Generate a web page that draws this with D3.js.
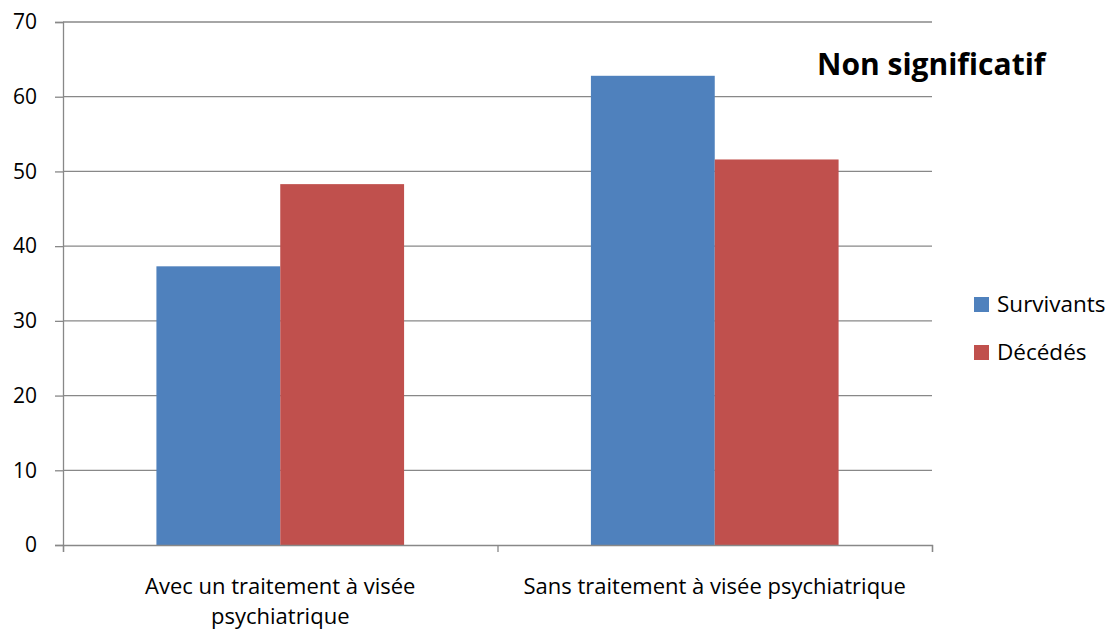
<!DOCTYPE html>
<html>
<head>
<meta charset="utf-8">
<script src="https://cdn.jsdelivr.net/npm/d3@7"></script>
<style>
  body { margin: 0; background: #fff; }
  text { font-family: "Open Sans", sans-serif; fill: #000; }
</style>
</head>
<body>
<div id="chart"></div>
<script>
/* DATA */
var categories = [
  ["Avec un traitement à visée", "psychiatrique"],
  ["Sans traitement à visée psychiatrique"]
];
var seriesNames = ["Survivants", "Décédés"];
var survivants = [37.3, 62.8];
var decedes = [48.3, 51.6];
var yTicks = [0, 10, 20, 30, 40, 50, 60, 70];
var note = "Non significatif";

var colors = ["#4f81bd", "#c0504d"];

var W = 1113, H = 632;
var margin = {top: 22, left: 63, right: 181, bottom: 87};
var width = W - margin.left - margin.right,
    height = H - margin.top - margin.bottom;

var svg = d3.select("#chart").append("svg")
  .attr("width", W)
  .attr("height", H);

var g = svg.append("g")
  .attr("transform", "translate(" + margin.left + "," + margin.top + ")");

var catIdx = categories.map(function(d, i) { return i; });

var xScale = d3.scaleBand()
  .domain(catIdx)
  .range([0, width])
  .paddingInner(0.43)
  .paddingOuter(0.215);

var xSub = d3.scaleBand()
  .domain([0, 1])
  .range([0, xScale.bandwidth()]);

var yScale = d3.scaleLinear()
  .domain([0, 70])
  .range([height, 0]);

// gridlines
g.selectAll(".grid")
  .data(yTicks.filter(function(d) { return d > 0; }))
  .enter().append("line")
  .attr("x1", 0)
  .attr("x2", width)
  .attr("y1", function(d) { return yScale(d); })
  .attr("y2", function(d) { return yScale(d); })
  .attr("stroke", "#888")
  .attr("stroke-width", 1.3);

// bars
var rows = catIdx.map(function(i) { return [survivants[i], decedes[i]]; });
var groups = g.selectAll(".grp")
  .data(rows)
  .enter().append("g")
  .attr("transform", function(d, i) { return "translate(" + xScale(i) + ",0)"; });

groups.selectAll("rect")
  .data(function(d) { return d; })
  .enter().append("rect")
  .attr("x", function(d, j) { return xSub(j); })
  .attr("y", function(d) { return yScale(d); })
  .attr("width", xSub.bandwidth())
  .attr("height", function(d) { return height - yScale(d); })
  .attr("fill", function(d, j) { return colors[j]; });

// y axis
var yAxis = g.append("g")
  .call(d3.axisLeft(yScale).tickValues(yTicks).tickSize(8).tickPadding(18).tickFormat(d3.format("d")));
yAxis.select(".domain").attr("stroke", "#888").attr("stroke-width", 1.3);
yAxis.selectAll(".tick line").attr("stroke", "#888").attr("stroke-width", 1.3);
yAxis.selectAll(".tick text").style("font-size", "21px").attr("fill", "#000");

// x axis with ticks on category boundaries
var xLin = d3.scaleLinear().domain([0, categories.length]).range([0, width]);
var xAxis = g.append("g")
  .attr("transform", "translate(0," + height + ")")
  .call(d3.axisBottom(xLin).ticks(categories.length).tickSize(7).tickSizeOuter(7).tickFormat(""));
xAxis.select(".domain").attr("stroke", "#888").attr("stroke-width", 1.3);
xAxis.selectAll(".tick line").attr("stroke", "#888").attr("stroke-width", 1.3);

// category labels
categories.forEach(function(lines, i) {
  var t = g.append("text")
    .attr("x", xScale(i) + xScale.bandwidth() / 2)
    .attr("y", height + 49)
    .attr("text-anchor", "middle")
    .style("font-size", "22px");
  lines.forEach(function(l, k) {
    t.append("tspan")
      .attr("x", xScale(i) + xScale.bandwidth() / 2)
      .attr("dy", k === 0 ? 0 : 30)
      .text(l);
  });
});

// note
svg.append("text")
  .attr("x", 817)
  .attr("y", 75)
  .style("font-size", "30px")
  .style("font-weight", "bold")
  .text(note);

// legend
var legend = svg.selectAll(".legend")
  .data(seriesNames)
  .enter().append("g")
  .attr("transform", function(d, i) { return "translate(974," + (297 + i * 48) + ")"; });
legend.append("rect")
  .attr("width", 15)
  .attr("height", 15)
  .attr("fill", function(d, i) { return colors[i]; });
legend.append("text")
  .attr("x", 23)
  .attr("y", 15)
  .style("font-size", "22.5px")
  .text(function(d) { return d; });
</script>
</body>
</html>
